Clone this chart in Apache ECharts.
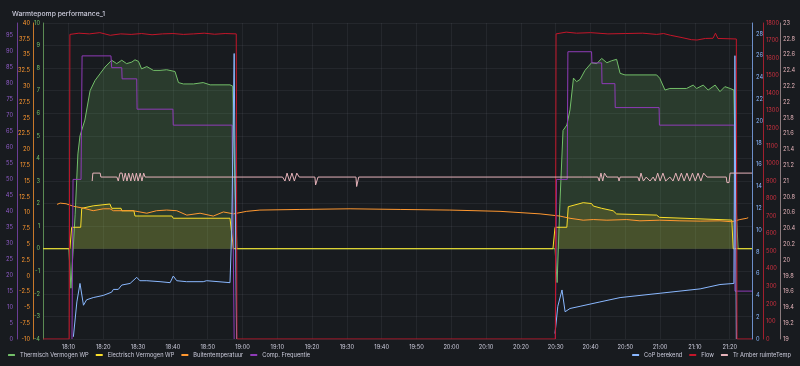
<!DOCTYPE html>
<html><head><meta charset="utf-8">
<script src="https://cdn.jsdelivr.net/npm/echarts@6/dist/echarts.min.js"></script>
<style>html,body{margin:0;padding:0;background:#181b1f;}#c{width:800px;height:366px;}</style>
</head><body><div id="c"></div>
<script>
// times are minutes after 18:00
const xMin = 2.67, xMax = 206.4;
const thermisch = [[2.67,0],[10.1,0],[10.7,-1.75],[11.9,1.5],[12.7,4.2],[13.3,5.0],[14.7,5.7],[16.2,7.0],[17.6,7.45],[19.05,7.75],[20.5,8.05],[22.4,8.35],[23.85,8.2],[25.3,8.35],[26.7,8.2],[28.2,8.27],[29.1,8.37],[30.1,8.3],[31.0,7.97],[32.5,8.07],[34.4,7.9],[36.3,7.9],[38.2,7.93],[40.6,7.85],[41.6,7.36],[43.0,7.3],[45.9,7.3],[48.7,7.36],[50.7,7.26],[56.4,7.26],[57.2,7.2],[57.8,3],[58.4,0],[149.8,0],[150.4,-1.5],[151.2,2],[152.1,5.24],[153.2,5.48],[154.1,6.15],[155.1,7.56],[156.0,7.4],[157.0,7.5],[158.4,7.9],[160.3,8.24],[161.8,8.2],[163.2,8.43],[164.7,8.24],[166.1,8.33],[167.5,8.39],[168.5,7.77],[169.9,7.7],[179.0,7.7],[179.9,7.55],[181.4,7.03],[182.8,7.1],[187.6,7.1],[189.5,7.25],[190.5,7.1],[192.4,7.25],[193.8,7.03],[195.8,7.25],[197.2,6.96],[198.6,7.18],[200.1,7.1],[201.2,7.03],[201.8,2],[202.4,0],[206.4,0]];
const electrisch = [[2.67,0],[10.4,0],[10.9,0.95],[13.5,0.95],[13.8,1.79],[17.1,1.9],[21.9,1.98],[22.4,1.79],[25.1,1.79],[25.3,1.68],[28.8,1.68],[29.1,1.45],[39.7,1.45],[40.1,1.35],[56.4,1.35],[57.4,0],[149.2,0],[149.8,0.95],[153.2,0.95],[153.6,1.86],[157.9,2.04],[160.3,2.0],[160.8,1.89],[163.2,1.79],[166.5,1.68],[167.5,1.54],[179.0,1.49],[179.8,1.39],[200.6,1.27],[201.0,0],[206.4,0]];
const buitentemp = [[6.7,11.3],[7.6,11.5],[9.3,11.4],[11.4,11.0],[14.3,10.7],[17.1,10.3],[20.0,10.6],[21.9,10.6],[22.9,10.3],[25.7,10.3],[28.6,10.3],[32.5,9.9],[35.3,10.3],[38.2,10.4],[41.1,10.3],[44.0,9.6],[47.8,9.9],[51.6,9.45],[54.5,10.1],[57.4,9.8],[61.2,10.2],[65.0,10.4],[76.5,10.5],[90.9,10.6],[105.3,10.5],[119.6,10.4],[134.0,10.2],[145.5,9.8],[151.2,9.45],[154.1,9.1],[157.9,8.8],[160.8,8.9],[164.7,8.8],[170.4,8.9],[174.2,8.7],[179.9,8.8],[185.7,8.7],[191.5,8.65],[197.2,8.7],[200.6,8.55],[202.9,8.9],[204.9,9.1],[205.3,9.2]];
const compFreq = [[11.0,0],[11.3,50],[13.6,50],[13.9,88.7],[22.2,88.7],[22.4,85],[25.3,85],[25.4,81.5],[29.6,81.5],[29.7,72],[40.0,72],[40.1,67],[57.0,67],[57.6,0],[100,null],[149.9,0],[150.2,50],[153.3,50],[153.5,90],[160.3,90],[160.4,86.5],[163.2,86.5],[163.3,80],[167.0,80],[167.1,72.5],[179.7,72.5],[179.8,67],[201.3,67],[201.5,15],[206.4,15]];
const cop = [[11.4,0.2],[12.4,3.4],[13.3,5.1],[13.8,5.1],[14.3,3.1],[14.7,2.96],[15.2,3.6],[17.1,3.8],[20.0,4.0],[22.4,4.3],[22.9,4.55],[24.3,4.55],[25.3,4.95],[27.7,5.1],[29.6,5.66],[30.5,5.35],[32.5,5.35],[36.3,5.26],[39.2,5.17],[40.1,5.78],[41.1,5.35],[43.9,5.26],[48.7,5.26],[49.7,5.35],[56.4,5.17],[56.9,10],[57.6,26.2],[58.0,10],[58.3,0],[100,null],[149.8,0.5],[150.6,3],[151.8,4.5],[152.7,2.5],[154.1,2.8],[157.0,3.0],[162.7,3.4],[168.5,3.8],[180,4.2],[191.5,4.6],[197.2,5.0],[201.2,5.1],[201.5,26],[201.9,0]];
const flow = [[2.67,0],[10.2,0],[10.4,1735],[13,1742],[16,1738],[19,1745],[22,1730],[25,1738],[28,1735],[31,1740],[34,1733],[37,1738],[40,1740],[43,1735],[46,1738],[49,1742],[52,1736],[55,1740],[58.2,1738],[58.4,0],[149.9,0],[150.1,1738],[153,1748],[156,1742],[160,1745],[165,1738],[170,1740],[175,1742],[179,1735],[181,1740],[183,1730],[186,1718],[189,1705],[190.6,1703],[193,1712],[195.2,1713],[195.9,1742],[196.6,1712],[201.9,1709],[202.1,0],[206.4,0]];
const ruimteTemp = [[16.8,21.0],[17.0,21.1],[19.1,21.1],[19.3,21.05],[23.9,21.05],[24.3,21.0],[24.8,21.1],[25.4,21.1],[25.8,21.0],[26.3,21.1],[26.8,21.0],[27.3,21.1],[27.9,21.0],[28.4,21.1],[29.0,21.0],[29.5,21.1],[30.0,21.0],[30.6,21.1],[31.1,21.0],[31.6,21.1],[32.0,21.05],[71.5,21.05],[72.2,21.0],[72.8,21.1],[73.5,21.0],[74.2,21.1],[74.9,21.0],[75.6,21.1],[76.3,21.05],[80.8,21.05],[81.0,20.95],[81.5,20.95],[81.7,21.05],[92.6,21.05],[92.8,20.93],[93.2,20.93],[93.4,21.05],[157.8,21.05],[162.1,21.05],[162.5,21.0],[163.0,21.1],[163.5,21.0],[164.0,21.1],[164.7,21.05],[167.9,21.05],[168.2,21.0],[168.5,21.05],[173.6,21.05],[174.0,21.0],[174.5,21.1],[175.2,21.0],[176.0,21.05],[177.1,21.0],[178.0,21.05],[178.6,21.0],[179.3,21.1],[180.0,21.0],[180.8,21.1],[181.6,21.0],[182.8,21.05],[183.7,21.0],[184.5,21.1],[185.3,21.0],[186.1,21.1],[186.9,21.0],[187.7,21.1],[188.5,21.0],[189.3,21.1],[190.1,21.0],[190.9,21.1],[191.7,21.0],[192.5,21.1],[193.5,21.05],[199.0,21.05],[199.2,20.98],[199.8,20.98],[200.1,21.1],[206.4,21.1]];

const base = new Date(2024,0,1,18,0,0).getTime();
const ts = m => base + m*60000;
const conv = arr => arr.map(p => [ts(p[0]), p[1]]);
const FONT = 'Inter';
const txt = '#ccccdc';
const fs = 5.7;
const grid = 'rgba(204,204,220,0.07)';

function yAx(pos, offset, min, max, interval, color, lineColor, extra) {
  return Object.assign({
    type: 'value', position: pos, offset: offset, min: min, max: max, interval: interval,
    axisLine: {show: true, lineStyle: {color: lineColor, width: 1}},
    axisTick: {show: false},
    splitLine: {show: false},
    axisLabel: {color: color, fontSize: fs, fontFamily: FONT, margin: 3}
  }, extra || {});
}

const chart = echarts.init(document.getElementById('c'), null, {renderer: 'canvas'});
const lineS = (name, data, yi, color, area) => ({
  name, type: 'line', yAxisIndex: yi, data: conv(data), showSymbol: false, symbol: 'none',
  lineStyle: {width: 1, color}, itemStyle: {color},
  areaStyle: area ? {color, opacity: area} : undefined,
  connectNulls: false, animation: false
});
chart.setOption({
  backgroundColor: '#181b1f',
  animation: false,
  title: {text: 'Warmtepomp performance_1', left: 7, top: 5, textStyle: {color: txt, fontSize: 6.8, fontWeight: 500, fontFamily: FONT}},
  grid: {left: 43, right: 48, top: 23, bottom: 27},
  legend: [
    {data: ['Thermisch Vermogen WP','Electrisch Vermogen WP','Buitentemperatuur','Comp. Frequentie'], left: 8, top: 352, padding: 0, itemWidth: 7, itemHeight: 2, itemGap: 7, icon: 'roundRect', textStyle: {color: txt, fontSize: fs, fontFamily: FONT}},
    {data: ['CoP berekend','Flow','Tr Amber ruimteTemp'], right: 9, top: 352, padding: 0, itemWidth: 7, itemHeight: 2, itemGap: 7, icon: 'roundRect', textStyle: {color: txt, fontSize: fs, fontFamily: FONT}}
  ],
  xAxis: {
    type: 'time', min: ts(xMin), max: ts(xMax), splitNumber: 20,
    axisLine: {show: false}, axisTick: {show: false},
    splitLine: {show: true, lineStyle: {color: grid, width: 1}},
    axisLabel: {formatter: '{HH}:{mm}', color: txt, fontSize: fs, fontFamily: FONT, margin: 5, showMinLabel: false, showMaxLabel: false}
  },
  yAxis: [
    yAx('left', 0, -4, 10, 1, '#73BF69', '#5b8a53', {splitLine: {show: true, lineStyle: {color: grid, width: 1}}}),
    yAx('left', 10, -10, 40, 2.5, '#FF9830', '#c8782a'),
    yAx('left', 26, 0, 99, 5, '#8F5BC8', '#6a3d94', {axisLabel: {color: '#8F5BC8', fontSize: fs, fontFamily: FONT, margin: 4, showMaxLabel: false}}),
    yAx('right', 0, 0, 29, 2, '#8AB8FF', '#6d8fc9', {axisLabel: {color: '#8AB8FF', fontSize: fs, fontFamily: FONT, margin: 4, showMaxLabel: false}}),
    yAx('right', 11, 0, 1800, 100, '#d0303f', '#a0202e', {axisLabel: {color: '#d0303f', fontSize: fs, fontFamily: FONT, margin: 3, formatter: v => String(v)}}),
    yAx('right', 28, 19, 23, 0.2, '#e0b0b6', '#8a7a7d', {axisLabel: {color: '#e0b0b6', fontSize: fs, fontFamily: FONT, margin: 3, formatter: v => String(Math.round(v*10)/10)}})
  ],
  series: [
    lineS('Thermisch Vermogen WP', thermisch, 0, '#73BF69', 0.2),
    lineS('Electrisch Vermogen WP', electrisch, 0, '#FADE2A', 0.14),
    lineS('Buitentemperatuur', buitentemp, 1, '#FF9830'),
    lineS('Comp. Frequentie', compFreq, 2, '#8F3BB8'),
    lineS('CoP berekend', cop, 3, '#8AB8FF'),
    lineS('Flow', flow, 4, '#C4162A'),
    lineS('Tr Amber ruimteTemp', ruimteTemp, 5, '#e6b3ba')
  ]
});
</script></body></html>
